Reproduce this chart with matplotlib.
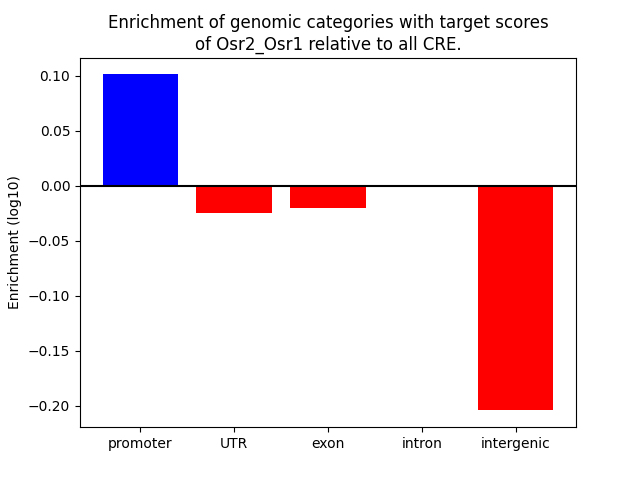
import numpy as np
import matplotlib
matplotlib.use('Agg')
import matplotlib.pyplot as plt

categories = ['promoter', 'UTR', 'exon', 'intron', 'intergenic']
enrichment = [0.101, -0.0245, -0.0200, 0.0, -0.2040]

colors = ['blue' if v > 0 else 'red' for v in enrichment]

fig, ax = plt.subplots(figsize=(6.4, 4.8), dpi=100)
x = np.arange(len(categories))
ax.bar(x, enrichment, color=colors)
ax.axhline(0, color='black')
ax.set_xticks(x)
ax.set_xticklabels(categories)
ax.set_ylabel('Enrichment (log10)')
ax.set_title('Enrichment of genomic categories with target scores\nof Osr2_Osr1 relative to all CRE.')
fig.savefig('out.png')
